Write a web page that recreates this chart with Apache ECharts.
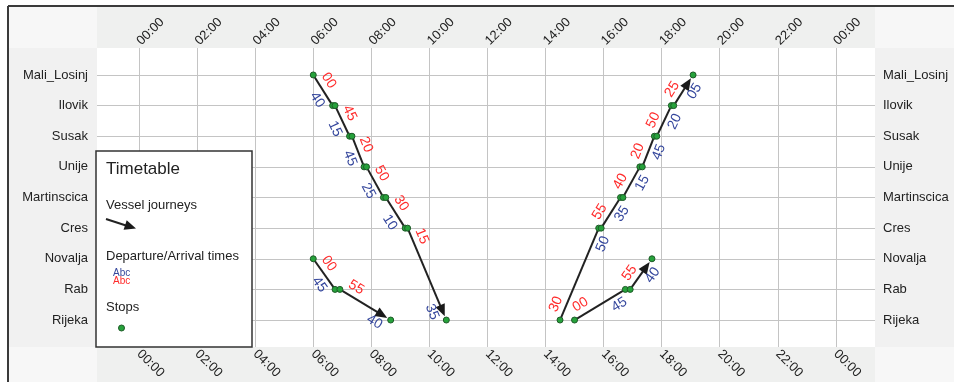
<!DOCTYPE html>
<html><head><meta charset="utf-8">
<script src="https://cdn.jsdelivr.net/npm/echarts@6/dist/echarts.min.js"></script>
<style>html,body{margin:0;padding:0;background:#fff}#c{width:954px;height:382px}</style>
</head><body><div id="c"></div><script>
// Stops, bottom (index 0) to top
const stops = ['Rijeka','Rab','Novalja','Cres','Martinscica','Unije','Susak','Ilovik','Mali_Losinj'];
const hourTicks = [0,2,4,6,8,10,12,14,16,18,20,22,24];
const hourLabels = ['00:00','02:00','04:00','06:00','08:00','10:00','12:00','14:00','16:00','18:00','20:00','22:00','00:00'];

// Journey 1: Mali_Losinj -> Rijeka
const j1Stops = ['Mali_Losinj','Ilovik','Susak','Unije','Martinscica','Cres','Rijeka'];
const j1Arr   = [null,'06:40','07:15','07:45','08:25','09:10','10:35'];
const j1Dep   = ['06:00','06:45','07:20','07:50','08:30','09:15',null];
// Journey 2: Novalja -> Rijeka
const j2Stops = ['Novalja','Rab','Rijeka'];
const j2Arr   = [null,'06:45','08:40'];
const j2Dep   = ['06:00','06:55',null];
// Journey 3: Rijeka -> Mali_Losinj
const j3Stops = ['Rijeka','Cres','Martinscica','Unije','Susak','Ilovik','Mali_Losinj'];
const j3Arr   = [null,'15:50','16:35','17:15','17:45','18:20','19:05'];
const j3Dep   = ['14:30','15:55','16:40','17:20','17:50','18:25',null];
// Journey 4: Rijeka -> Novalja
const j4Stops = ['Rijeka','Rab','Novalja'];
const j4Arr   = [null,'16:45','17:40'];
const j4Dep   = ['15:00','16:55',null];

const RED = '#ff2b2b', BLUE = '#34469c', FONT = 'Liberation Sans, Arial, sans-serif';

function toHours(s){ const p = s.split(':').map(Number); return p[0] + p[1]/60; }
function buildPoints(st, arr, dep){
  const pts = [];
  for (let i = 0; i < st.length; i++){
    const y = stops.indexOf(st[i]);
    if (arr[i]) pts.push([toHours(arr[i]), y, arr[i].slice(3), 0]);
    if (dep[i]) pts.push([toHours(dep[i]), y, dep[i].slice(3), 1]);
  }
  return pts;
}
function makeRender(pts){
  return function(params, api){
    const i = params.dataIndex;
    const p = api.coord([pts[i][0], pts[i][1]]);
    const children = [];
    if (i > 0){
      const q = api.coord([pts[i-1][0], pts[i-1][1]]);
      let end = p;
      if (i === pts.length - 1){
        const dx = p[0]-q[0], dy = p[1]-q[1], L = Math.hypot(dx,dy), ux = dx/L, uy = dy/L;
        const tip = [p[0]-4*ux, p[1]-4*uy];
        const base = [tip[0]-12*ux, tip[1]-12*uy];
        const nx = -uy, ny = ux;
        children.push({type:'polygon', z2:2, shape:{points:[tip,[base[0]+5*nx,base[1]+5*ny],[base[0]-5*nx,base[1]-5*ny]]}, style:{fill:'#1a1a1a'}});
        end = [base[0]+2*ux, base[1]+2*uy];
      }
      children.push({type:'line', z2:1, shape:{x1:q[0],y1:q[1],x2:end[0],y2:end[1]}, style:{stroke:'#222', lineWidth:2}});
    }
    children.push({type:'circle', z2:3, shape:{cx:p[0],cy:p[1],r:3}, style:{fill:'#26a23b', stroke:'#1e5a28', lineWidth:1}});
    const isDep = pts[i][3] === 1;
    const a = isDep ? p : api.coord([pts[i-1][0], pts[i-1][1]]);
    const b = isDep ? api.coord([pts[i+1][0], pts[i+1][1]]) : p;
    const dx = b[0]-a[0], dy = b[1]-a[1], L = Math.hypot(dx,dy), ux = dx/L, uy = dy/L;
    const nlx = uy, nly = -ux;
    const s = isDep ? 1 : -1;
    const cx = p[0] + s*(13*ux + 10*nlx), cy = p[1] + s*(13*uy + 10*nly);
    children.push({type:'text', z2:4, x:cx, y:cy, rotation:-Math.atan2(uy,ux),
      style:{text:pts[i][2], fill: isDep ? RED : BLUE, fontSize:14, fontFamily:FONT, align:'center', verticalAlign:'middle'}});
    return {type:'group', children};
  };
}
const journeys = [[j1Stops,j1Arr,j1Dep],[j2Stops,j2Arr,j2Dep],[j3Stops,j3Arr,j3Dep],[j4Stops,j4Arr,j4Dep]];
const series = journeys.map(j => {
  const pts = buildPoints(j[0], j[1], j[2]);
  return {type:'custom', xAxisIndex:0, yAxisIndex:0, clip:false, z:5, renderItem:makeRender(pts),
    encode:{x:0,y:1}, data: pts.map(p => [p[0], p[1]])};
});

const xLab = v => hourLabels[hourTicks.indexOf(Math.round(v))];
const yLab = v => stops[Math.round(v)];
const yVals = [0,1,2,3,4,5,6,7,8];
const gridCol = '#c4c4c4';
const gx = 97, gy = 48, gw = 778, gh = 299;

const L = (o) => Object.assign({z:100, silent:true}, o);
const chart = echarts.init(document.getElementById('c'), null, {renderer:'canvas'});
chart.setOption({
  backgroundColor:'#f7f7f7',
  animation:false,
  grid:{left:gx, top:gy, width:gw, height:gh, show:true, backgroundColor:'#ffffff', borderWidth:0},
  xAxis:[
    {type:'value', position:'top', min:-1.45, max:25.35, axisLine:{show:false},
     axisTick:{show:false, customValues:hourTicks},
     splitLine:{show:true, lineStyle:{color:gridCol, width:1}},
     axisLabel:{customValues:hourTicks, rotate:45, margin:5, formatter:xLab, color:'#222', fontSize:13, fontFamily:FONT}},
    {type:'value', position:'bottom', min:-1.45, max:25.35, axisLine:{show:false},
     axisTick:{show:false, customValues:hourTicks}, splitLine:{show:false},
     axisLabel:{customValues:hourTicks, rotate:-45, margin:5, formatter:xLab, color:'#222', fontSize:13, fontFamily:FONT}}
  ],
  yAxis:[
    {type:'value', position:'left', min:-0.88, max:8.88, axisLine:{show:false},
     axisTick:{show:false, customValues:yVals},
     splitLine:{show:true, lineStyle:{color:gridCol, width:1}},
     axisLabel:{customValues:yVals, margin:9, formatter:yLab, color:'#222', fontSize:13, fontFamily:FONT}},
    {type:'value', position:'right', min:-0.88, max:8.88, axisLine:{show:false},
     axisTick:{show:false, customValues:yVals}, splitLine:{show:false},
     axisLabel:{customValues:yVals, margin:8, formatter:yLab, color:'#222', fontSize:13, fontFamily:FONT}}
  ],
  graphic:[
    {type:'rect', z:-10, silent:true, shape:{x:0,y:0,width:954,height:6}, style:{fill:'#ffffff'}},
    {type:'rect', z:-10, silent:true, shape:{x:0,y:0,width:8,height:382}, style:{fill:'#ffffff'}},
    {type:'rect', z:-9, silent:true, shape:{x:gx,y:6,width:gw,height:gy-6}, style:{fill:'#eff0ef'}},
    {type:'rect', z:-9, silent:true, shape:{x:gx,y:gy+gh,width:gw,height:382-gy-gh}, style:{fill:'#eff0ef'}},
    {type:'rect', z:-9, silent:true, shape:{x:8,y:gy,width:gx-8,height:gh}, style:{fill:'#f1f1f1'}},
    {type:'rect', z:-9, silent:true, shape:{x:gx+gw,y:gy,width:954-gx-gw,height:gh}, style:{fill:'#f1f1f1'}},
    {type:'line', z:50, silent:true, shape:{x1:8,y1:6,x2:954,y2:6}, style:{stroke:'#3a3a3a', lineWidth:2}},
    {type:'line', z:50, silent:true, shape:{x1:8,y1:6,x2:8,y2:382}, style:{stroke:'#3a3a3a', lineWidth:2}},
    L({type:'rect', shape:{x:96,y:151,width:156,height:196}, style:{fill:'#ffffff', stroke:'#333', lineWidth:1.5}}),
    L({type:'text', z:101, x:106, y:169, style:{text:'Timetable', fontSize:17, fontFamily:FONT, fill:'#222', verticalAlign:'middle'}}),
    L({type:'text', z:101, x:106, y:205, style:{text:'Vessel journeys', fontSize:13, fontFamily:FONT, fill:'#222', verticalAlign:'middle'}}),
    L({type:'line', z:101, shape:{x1:106,y1:219,x2:126,y2:225.5}, style:{stroke:'#222', lineWidth:2}}),
    L({type:'polygon', z:101, shape:{points:[[136,228.5],[123.6,229.7],[126.7,220.2]]}, style:{fill:'#1a1a1a'}}),
    L({type:'text', z:101, x:106, y:256, style:{text:'Departure/Arrival times', fontSize:13, fontFamily:FONT, fill:'#222', verticalAlign:'middle'}}),
    L({type:'text', z:101, x:113, y:273, style:{text:'Abc', fontSize:10, fontFamily:FONT, fill:BLUE, verticalAlign:'middle'}}),
    L({type:'text', z:101, x:113, y:281, style:{text:'Abc', fontSize:10, fontFamily:FONT, fill:RED, verticalAlign:'middle'}}),
    L({type:'text', z:101, x:106, y:307, style:{text:'Stops', fontSize:13, fontFamily:FONT, fill:'#222', verticalAlign:'middle'}}),
    L({type:'circle', z:101, shape:{cx:121.5,cy:328,r:3}, style:{fill:'#26a23b', stroke:'#1e5a28', lineWidth:1}})
  ],
  series: series
});
</script></body></html>
